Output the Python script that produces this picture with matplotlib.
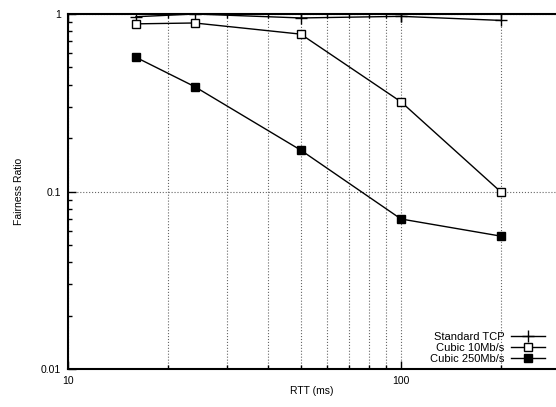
import matplotlib
matplotlib.use('Agg')
import matplotlib.pyplot as plt
from matplotlib.ticker import LogLocator, FixedLocator, FixedFormatter, NullFormatter

plt.rcParams['font.family'] = ['Liberation Sans', 'DejaVu Sans']

# data
rtt = [16, 24, 50, 100, 200]
std_tcp = [0.965, 1.0, 0.95, 0.97, 0.92]
cubic_10 = [0.88, 0.89, 0.77, 0.32, 0.099]
cubic_250 = [0.57, 0.39, 0.171, 0.070, 0.056]

xticks = [10, 100]
xticklabels = ['10', '100']
yticks = [0.01, 0.1, 1]
yticklabels = ['0.01', '0.1', '1']

W, H = 556, 407
fig = plt.figure(figsize=(W / 100, H / 100), dpi=100)
ax = fig.add_axes([68 / W, 1 - 369 / H, (556 - 68) / W, (369 - 14) / H])

ax.plot(rtt, std_tcp, color='black', lw=1, marker='+', ms=8, mew=1,
        label='Standard TCP')
ax.plot(rtt, cubic_10, color='black', lw=1, marker='s', ms=5.8, mfc='white',
        mew=1, label='Cubic 10Mb/s')
ax.plot(rtt, cubic_250, color='black', lw=1, marker='s', ms=5.8, mfc='black',
        label='Cubic 250Mb/s')

ax.set_xscale('log')
ax.set_yscale('log')
ax.set_xlim(10, 292)
ax.set_ylim(0.01, 1)

ax.xaxis.set_major_locator(FixedLocator(xticks))
ax.xaxis.set_major_formatter(FixedFormatter(xticklabels))
ax.xaxis.set_minor_locator(LogLocator(base=10, subs=range(2, 10)))
ax.xaxis.set_minor_formatter(NullFormatter())
ax.yaxis.set_major_locator(FixedLocator(yticks))
ax.yaxis.set_major_formatter(FixedFormatter(yticklabels))
ax.yaxis.set_minor_locator(LogLocator(base=10, subs=range(2, 10)))
ax.yaxis.set_minor_formatter(NullFormatter())

ax.tick_params(which='both', direction='in', top=True, labelsize=7.5, pad=5)
ax.tick_params(which='major', length=6, width=1)
ax.tick_params(which='minor', length=3, width=1)

ax.grid(True, which='both', axis='x', linestyle=':', color='#666666', lw=0.8)
ax.grid(True, which='major', axis='y', linestyle=':', color='#666666', lw=0.8)

for side in ['left', 'bottom', 'top']:
    ax.spines[side].set_linewidth(1.5)
ax.spines['right'].set_visible(False)

ax.set_xlabel('RTT (ms)', fontsize=7.5, labelpad=0)
ax.set_ylabel('Fairness Ratio', fontsize=7.5, labelpad=12)

ax.legend(loc='lower right', bbox_to_anchor=(0.995, -0.011), markerfirst=False,
          frameon=False, fontsize=8, handlelength=3.0, handletextpad=0.6,
          labelspacing=0.1, borderpad=0.3)

fig.savefig('out.png', dpi=100)
